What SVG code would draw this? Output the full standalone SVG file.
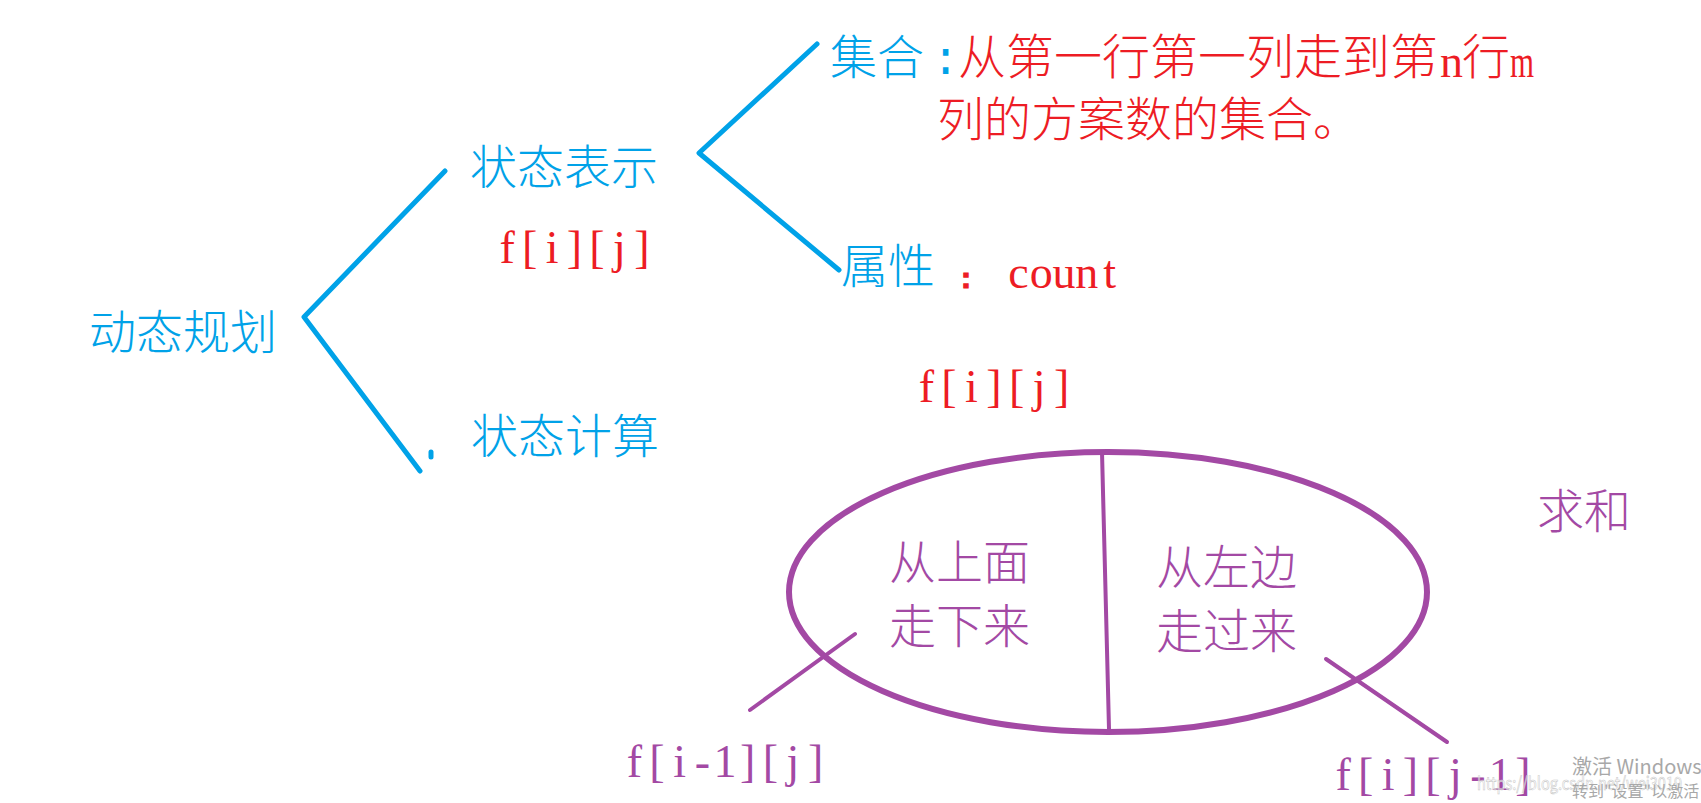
<svg xmlns="http://www.w3.org/2000/svg" width="1701" height="803" viewBox="0 0 1701 803">
<style>
.cjk{font-family:"Noto Sans CJK SC","Noto Sans",sans-serif;font-size:47px;font-weight:300}
.ser{font-family:"Liberation Serif","Noto Sans CJK SC",serif;font-size:46px}
.mono{font-family:"Liberation Mono",monospace;font-size:47px}
.blue{fill:#00a2e8}
.red{fill:#ed1c24}
.purple{fill:#a349a4}
.lb{fill:none;stroke:#00a2e8;stroke-width:5;stroke-linecap:round;stroke-linejoin:round}
.lp{fill:none;stroke:#a349a4;stroke-linecap:round}
.wm{font-family:"Noto Sans CJK SC","Liberation Sans",sans-serif}
</style>
<rect width="1701" height="803" fill="#ffffff"/>
<g id="connectors">
<polyline class="lb" points="445,171 304,317 420,471"/>
<line class="lb" x1="431" y1="452" x2="431" y2="457" stroke-width="3"/>
<polyline class="lb" points="817,44 699,153 839,270"/>
<line class="lp" x1="855" y1="634" x2="750" y2="710" stroke-width="4"/>
<line class="lp" x1="1326" y1="659" x2="1447" y2="742" stroke-width="4"/>
</g>
<g id="dp"><text class="cjk blue" x="89" y="349">动态规划</text></g>
<g id="state-repr"><text class="cjk blue" x="470" y="184">状态表示</text>
<text class="ser red" y="263" text-anchor="middle" x="507.2 529.6 552.1 574.5 596.9 619.4 641.8">f[i][j]</text></g>
<g id="state-calc"><text class="cjk blue" x="471" y="453">状态计算</text></g>
<g id="set"><text class="cjk blue" x="830" y="74">集合</text>
<text class="mono blue" x="945.7" y="73.5" text-anchor="middle">:</text>
<text class="cjk red" style="font-size:48px" y="74"><tspan x="958">从第一行第一列走到第</tspan><tspan class="ser" x="1440" y="77">n</tspan><tspan x="1462" y="74">行</tspan><tspan class="ser" x="1510" y="77" textLength="24" lengthAdjust="spacingAndGlyphs">m</tspan></text>
<text class="cjk red" x="937" y="136">列的方案数的集合。</text></g>
<g id="attr"><text class="cjk blue" x="841" y="283">属性</text>
<text x="966" y="288" text-anchor="middle" font-family="Liberation Sans" font-weight="bold" font-size="30" fill="#ed1c24" stroke="#ed1c24" stroke-width="1.2">:</text>
<text class="ser red" y="288" text-anchor="middle" x="1018.4 1041.2 1064 1086.8 1109.6">count</text></g>
<g id="fij"><text class="ser red" y="402" text-anchor="middle" x="926.3 948.9 971.4 994 1016.6 1039.1 1061.7">f[i][j]</text></g>
<g id="split">
<ellipse cx="1108" cy="592" rx="319" ry="140" fill="none" stroke="#a349a4" stroke-width="6"/>
<line class="lp" x1="1102" y1="452" x2="1109" y2="729" stroke-width="4"/>
</g>
<g id="from-top"><text class="cjk purple" x="889" y="579">从上面</text><text class="cjk purple" x="889" y="643">走下来</text></g>
<g id="from-left"><text class="cjk purple" x="1156" y="584">从左边</text><text class="cjk purple" x="1156" y="648">走过来</text></g>
<g id="sum"><text class="cjk purple" x="1537" y="528">求和</text></g>
<g id="f-up"><text class="ser purple" y="777" text-anchor="middle" x="634.3 657 679.7 702.3 725 747.7 770.3 793 815.7">f[i-1][j]</text></g>
<g id="f-left"><text class="ser purple" y="790" text-anchor="middle" x="1343.2 1365.7 1388.1 1410.5 1433 1455.4 1477.9 1500.3 1522.8">f[i][j-1]</text></g>
<g id="watermark">
<text class="wm" x="1572" y="774" font-size="20" fill="#a8a8a8">激活 Windows</text>
<text class="wm" x="1477" y="790" font-size="18" fill="#ffffff" fill-opacity="0.5" stroke="#c8c8c8" stroke-width="0.6" textLength="205" lengthAdjust="spacingAndGlyphs">https://blog.csdn.net/wei3019</text>
<text class="wm" x="1572" y="797" font-size="16" fill="#a8a8a8">转到"设置"以激活 W</text>
</g>
</svg>
